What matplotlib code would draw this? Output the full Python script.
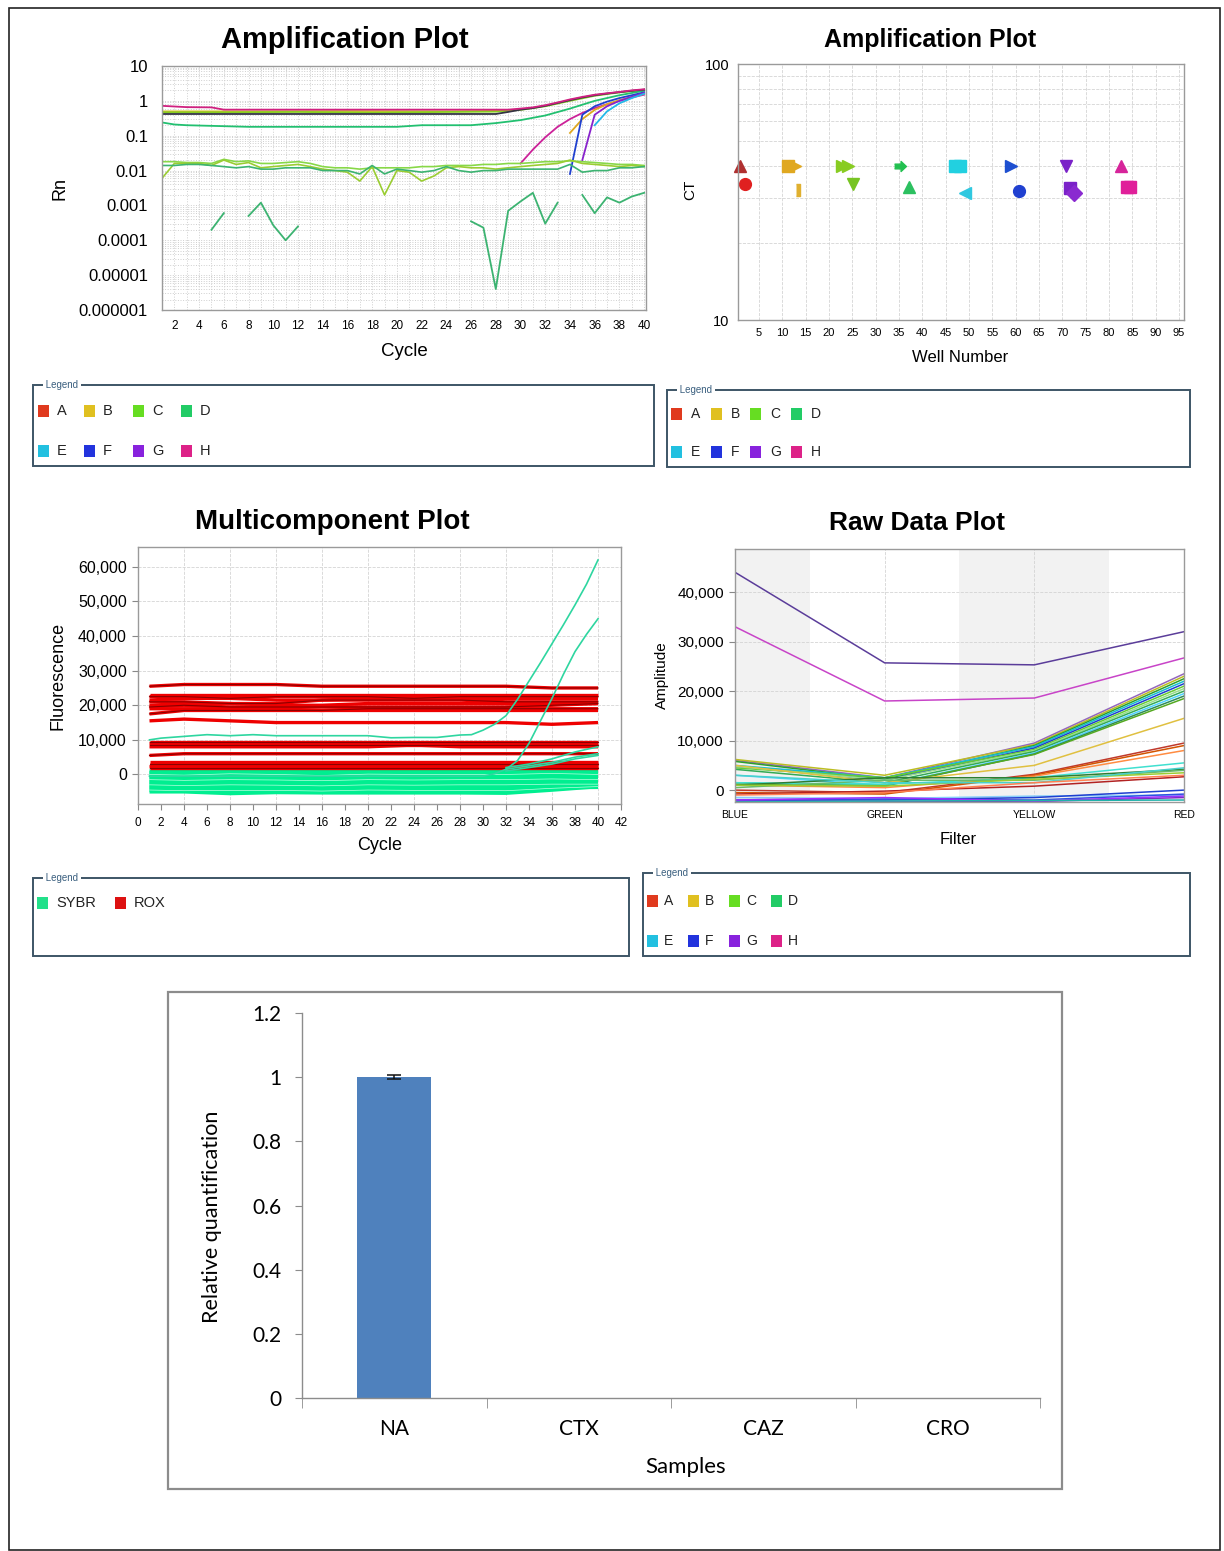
import numpy as np
import matplotlib
matplotlib.use("Agg")
import matplotlib.pyplot as plt
from matplotlib.patches import Rectangle
from matplotlib.ticker import FixedLocator, NullFormatter, MultipleLocator

nan = np.nan

# ---------------- data ----------------
well_rows = ["A", "B", "C", "D", "E", "F", "G", "H"]
row_colors = ["#e03a1e", "#e0c020", "#66dd22", "#22cc66",
              "#22c0e0", "#2233dd", "#8822dd", "#dd2288"]
dye_names = ["SYBR", "ROX"]
dye_colors = ["#22e08a", "#dd1111"]

# Amplification plot (Rn, log scale)
rn_tick_vals = [1e-6, 1e-5, 1e-4, 1e-3, 1e-2, 1e-1, 1, 10]
rn_tick_labels = ["0.000001", "0.00001", "0.0001", "0.001", "0.01", "0.1", "1", "10"]
cycles = list(range(1, 41))

rn_h_x = [1, 3, 5, 6, 29, 30, 31, 32, 33, 34, 35, 36, 37, 38, 39, 40]
rn_h_y = [0.72, 0.66, 0.65, 0.56, 0.56, 0.60, 0.65, 0.75, 0.90, 1.10, 1.30, 1.50, 1.65, 1.80, 2.00, 2.15]
rn_g_x = [1, 28, 29, 30, 31, 32, 33, 34, 35, 36, 37, 38, 39, 40]
rn_g_y = [0.42, 0.42, 0.48, 0.56, 0.62, 0.72, 0.87, 1.05, 1.25, 1.45, 1.62, 1.78, 1.95, 2.10]
rn_c_x = [1, 6, 12, 18, 24, 28, 30, 32, 34, 36, 38, 40]
rn_c_y = [0.47, 0.47, 0.48, 0.46, 0.48, 0.49, 0.55, 0.70, 1.00, 1.40, 1.75, 2.05]
rn_b_x = [1, 8, 16, 24, 29]
rn_b_y = [0.50, 0.50, 0.51, 0.50, 0.52]
rn_d_x = [1, 2, 3, 8, 20, 22, 26, 28, 30, 32, 34, 36, 38, 40]
rn_d_y = [0.24, 0.21, 0.20, 0.18, 0.18, 0.20, 0.20, 0.23, 0.28, 0.38, 0.60, 1.00, 1.45, 1.95]
rn_h2_x = [30, 31, 32, 33, 34, 35, 36, 37, 38, 39, 40]
rn_h2_y = [0.016, 0.04, 0.09, 0.18, 0.30, 0.45, 0.62, 0.80, 1.00, 1.25, 1.50]
rn_b2_x = [34, 35, 36, 37, 38, 40]
rn_b2_y = [0.12, 0.30, 0.55, 0.80, 1.05, 1.60]
rn_f_x = [34, 35, 36, 37, 38, 39, 40]
rn_f_y = [0.008, 0.40, 0.70, 0.95, 1.20, 1.45, 1.75]
rn_g2_x = [35, 36, 37, 38, 39, 40]
rn_g2_y = [0.02, 0.40, 0.70, 1.00, 1.30, 1.70]
rn_e_x = [36, 37, 38, 39, 40]
rn_e_y = [0.20, 0.50, 0.85, 1.20, 1.60]

rn_noise_1 = [0.006, 0.016, 0.016, 0.016, 0.014, 0.020, 0.015, 0.017, 0.012, 0.013,
              0.014, 0.015, 0.013, 0.011, 0.010, 0.009, 0.005, 0.013, 0.002, 0.010,
              0.009, 0.005, 0.007, 0.012, 0.013, 0.012, 0.012, 0.011, 0.012, 0.013,
              0.014, 0.015, 0.016, 0.020, 0.016, 0.015, 0.014, 0.013, 0.014, 0.013]
rn_noise_2 = [0.014, 0.014, 0.015, 0.015, 0.014, 0.013, 0.012, 0.013, 0.011, 0.011,
              0.012, 0.012, 0.012, 0.010, 0.010, 0.010, 0.008, 0.014, 0.008, 0.011,
              0.010, 0.009, 0.010, 0.013, 0.010, 0.009, 0.010, 0.010, 0.011, 0.011,
              0.011, 0.011, 0.011, 0.015, 0.009, 0.010, 0.010, 0.012, 0.012, 0.013]
rn_noise_3 = [0.018, 0.018, 0.017, 0.017, 0.016, 0.021, 0.018, 0.019, 0.016, 0.016,
              0.017, 0.018, 0.016, 0.013, 0.012, 0.012, 0.011, 0.012, 0.012, 0.012,
              0.012, 0.013, 0.013, 0.014, 0.014, 0.014, 0.015, 0.015, 0.016, 0.016,
              0.017, 0.018, 0.018, 0.019, 0.018, 0.017, 0.016, 0.015, 0.015, 0.014]
rn_low = [nan, nan, nan, nan, 2e-4, 6e-4, nan, 5e-4, 1.2e-3, 2.7e-4,
          1e-4, 2.5e-4, nan, nan, nan, nan, nan, nan, nan, nan,
          nan, nan, nan, nan, nan, 3.5e-4, 2.3e-4, 4e-6, 7e-4, 1.3e-3,
          2.3e-3, 3e-4, 1.2e-3, nan, 2e-3, 6e-4, 1.7e-3, 1.2e-3, 1.8e-3, 2.3e-3]

# CT per well
ct_wells = [1, 2, 11.3, 12.7, 13.4, 22.8, 24.1, 25.2, 35.2, 37.2, 47.0,
            48.0, 49.1, 59.1, 60.8, 70.7, 71.6, 72.5, 82.6, 83.8, 84.5]
ct_values = [40, 34, 40, 40, 32.2, 40, 40, 34, 40, 33, 40,
             40, 31.3, 40, 31.9, 40, 32.7, 31.3, 40, 33, 33]
ct_colors = ["#b03030", "#e02020", "#e0a820", "#e0a820", "#e0b030", "#88cc22", "#88cc22",
             "#77c422", "#22c050", "#2cc060", "#22d0e0", "#22d0e0", "#30c8e0", "#1d4fd0",
             "#2040d0", "#7a22c8", "#7a22c8", "#8a2ad0", "#d6249a", "#e0209a", "#e0209a"]
ct_markers = ["^", "o", "s", ">", "bar", ">", ">", "v", "arrow", "^", "s",
              "s", "<", ">", "o", "v", "s", "D", "^", "s", "s"]

# Multicomponent plot
mc_knots = [1, 4, 8, 12, 16, 20, 24, 28, 32, 36, 40]
rox_series = [
    [25500, 26000, 26000, 26000, 25500, 25500, 25500, 25500, 25500, 25000, 25000],
    [23000, 23000, 23000, 23000, 23000, 23000, 23000, 23000, 23000, 23000, 23000],
    [22500, 22500, 22000, 22500, 22500, 22500, 22000, 22500, 22500, 22500, 22500],
    [21500, 22000, 22000, 21500, 21500, 22000, 22000, 22000, 22000, 22000, 22000],
    [21000, 21000, 20500, 20500, 21500, 21500, 21500, 21500, 21000, 21000, 21000],
    [20000, 20500, 20500, 20000, 20000, 20500, 20500, 20500, 20500, 20500, 20500],
    [19500, 20000, 19500, 19500, 19500, 19500, 19500, 19500, 19500, 20000, 20500],
    [19000, 19000, 19000, 19000, 18500, 18500, 18500, 18500, 18500, 18500, 18500],
    [17500, 18500, 18500, 18500, 18500, 19000, 19000, 19000, 19000, 19000, 19000],
    [15500, 16000, 15500, 15000, 15000, 15000, 15000, 15000, 15000, 14500, 15000],
    [9500, 9500, 9500, 9500, 9500, 9500, 9500, 9500, 9500, 9500, 9500],
    [9000, 9000, 9000, 9000, 8500, 9000, 9000, 9000, 9000, 9000, 9000],
    [8500, 8500, 8500, 8500, 8500, 8500, 8500, 8500, 8500, 8500, 8500],
    [8000, 8000, 8000, 8000, 8000, 8000, 8500, 8000, 8000, 8000, 8000],
    [5500, 6000, 6000, 6000, 6000, 6000, 6000, 6000, 6000, 6000, 6000],
    [3500, 3500, 3500, 3500, 3500, 3500, 3500, 3500, 3500, 3500, 3500],
    [3000, 3000, 3000, 3000, 3000, 3000, 3000, 3000, 3000, 3000, 3000],
    [2500, 2500, 2500, 2500, 2500, 2500, 2500, 2500, 2500, 2500, 2500],
    [2000, 2000, 2000, 2000, 2000, 2000, 2000, 2000, 2000, 2000, 2000],
    [2200, 2800, 2500, 3000, 2700, 2200, 2600, 3200, 2500, 3000, 2200],
]
sybr_series = [
    [1500, 1500, 1500, 1500, 1500, 1500, 1500, 1500, 1500, 1500, 1500],
    [1000, 800, 1200, 1000, 900, 1100, 1000, 1000, 1000, 1200, 1000],
    [500, 300, 600, 500, 400, 600, 500, 500, 500, 800, 500],
    [0, -200, 200, 0, -300, 100, 0, 0, 0, 300, 0],
    [-500, -700, -400, -600, -800, -500, -600, -500, -500, -300, -500],
    [-1000, -1200, -900, -1100, -1300, -1000, -1100, -1000, -1000, -800, -1000],
    [-1500, -1700, -1500, -1600, -1800, -1500, -1600, -1500, -1500, -1300, -1500],
    [-2000, -2200, -2000, -2100, -2300, -2000, -2100, -2000, -2000, -1800, -2000],
    [-2500, -2700, -2500, -2700, -2800, -2500, -2600, -2500, -2500, -2300, -2200],
    [-3000, -3200, -3000, -3100, -3300, -3000, -3100, -3000, -3000, -2800, -2800],
    [-3500, -3700, -3500, -3600, -3700, -3500, -3600, -3500, -3500, -3300, -3300],
    [-4000, -4200, -4000, -4100, -4200, -4000, -4100, -4000, -4000, -3800, -3700],
    [-4500, -4700, -4600, -4600, -4800, -4500, -4600, -4600, -4700, -4000, -3500],
    [-5000, -5000, -5500, -5200, -5300, -5300, -5300, -5300, -5400, -4500, -3500],
]
sybr_up1_x = [1, 2, 4, 6, 8, 10, 12, 14, 16, 18, 20, 22, 24, 26, 28,
              29, 30, 31, 32, 33, 34, 35, 36, 37, 38, 39, 40]
sybr_up1_y = [10000, 10500, 11000, 11500, 11200, 11500, 11200, 11200, 11200, 11200, 11200,
              10600, 10700, 10700, 11400, 11500, 12800, 14500, 17000, 21700, 27000,
              32300, 37800, 43300, 49000, 55000, 62000]
sybr_up2_x = [1, 10, 20, 30, 31, 32, 33, 34, 35, 36, 37, 38, 39, 40]
sybr_up2_y = [-500, -500, -500, -500, 200, 1500, 4000, 9000, 15500, 22000, 29000, 35500, 40500, 45000]
sybr_up3_x = [32, 34, 36, 38, 40]
sybr_up3_y = [2000, 3000, 4500, 6500, 8000]
sybr_up4_x = [32, 34, 36, 38, 40]
sybr_up4_y = [1500, 2500, 3500, 5000, 6000]
sybr_up5_x = [32, 34, 36, 38, 40]
sybr_up5_y = [1000, 2000, 3000, 4500, 5500]

# Raw data plot
filters = ["BLUE", "GREEN", "YELLOW", "RED"]
raw_series = [
    ("#5b3d9a", [44000, 25700, 25300, 32000]),
    ("#c844c8", [33000, 18000, 18600, 26700]),
    ("#9467bd", [6000, 2500, 9500, 23500]),
    ("#bcbd22", [6200, 3000, 9200, 23000]),
    ("#2ca02c", [5800, 2200, 9000, 22500]),
    ("#17becf", [5000, 2500, 8800, 22000]),
    ("#1f3fd0", [4800, 2000, 8500, 21500]),
    ("#66cc33", [4500, 2500, 8200, 21000]),
    ("#98df8a", [4800, 2000, 8000, 20500]),
    ("#33aa55", [4200, 1500, 7800, 20000]),
    ("#4dd2ff", [3000, 1000, 7500, 19500]),
    ("#2e8b57", [1500, 800, 7300, 19000]),
    ("#55aa22", [1200, 1000, 7200, 18500]),
    ("#e0c040", [5000, 1500, 5000, 14500]),
    ("#c0392b", [0, -500, 3200, 9500]),
    ("#d35400", [-500, -800, 3000, 9000]),
    ("#ff8c42", [1000, 500, 2800, 8000]),
    ("#40e0d0", [1500, 1200, 2500, 5500]),
    ("#2e7d32", [1000, 2500, 2500, 4200]),
    ("#66bb6a", [500, 2000, 2000, 4000]),
    ("#9acd32", [1000, 800, 2200, 3500]),
    ("#48d1cc", [3000, 1500, 1500, 4500]),
    ("#b22222", [-800, -200, 800, 2700]),
    ("#ff7f50", [-1000, -500, 1500, 3000]),
    ("#87cefa", [-1500, -1700, -1200, -1000]),
    ("#1f3fd0", [-2000, -2000, -1500, 0]),
    ("#3050e0", [-2200, -1800, -2000, -800]),
    ("#7b2fbe", [-2300, -2300, -2300, -1500]),
    ("#9b30ff", [-2000, -1500, -2200, -1200]),
    ("#20b2aa", [-2400, -2200, -2100, -2000]),
]

# Relative quantification
samples = ["NA", "CTX", "CAZ", "CRO"]
rq_values = [1.0, 0.0, 0.0, 0.0]
rq_errors = [0.006, 0.0, 0.0, 0.0]
rq_ticks = [0, 0.2, 0.4, 0.6, 0.8, 1.0, 1.2]
rq_tick_labels = ["0", "0.2", "0.4", "0.6", "0.8", "1", "1.2"]

# ---------------- layout helpers ----------------
W, H = 1224, 1551
plt.rcParams["font.family"] = ["Liberation Sans", "DejaVu Sans"]
fig = plt.figure(figsize=(W / 100, H / 100), dpi=100)


def box(x0, y0, x1, y1):
    return [x0 / W, 1 - y1 / H, (x1 - x0) / W, (y1 - y0) / H]


def fp(x, y):
    return x / W, 1 - y / H


def frame(x0, y0, x1, y1, color, lw):
    fig.patches.append(Rectangle(fp(x0, y1), (x1 - x0) / W, (y1 - y0) / H,
                                 transform=fig.transFigure, fill=False,
                                 ec=color, lw=lw))


def legend_panel(x0, y0, x1, y1, labels, colors, cols_x, text_dx, rows_y, fs=10.5):
    frame(x0, y0, x1, y1, "#3d5566", 1.4)
    fig.text(*fp(x0 + 10, y0), " Legend ", fontsize=7, color="#3a5f7f",
             ha="left", va="center",
             bbox=dict(fc="white", ec="none", pad=0.3))
    ncol = len(cols_x)
    for i, (lab, col) in enumerate(zip(labels, colors)):
        cx = cols_x[i % ncol]
        cy = rows_y[i // ncol]
        fig.patches.append(Rectangle(fp(cx, cy + 6), 11 / W, 12 / H,
                                     transform=fig.transFigure, fc=col, ec="none"))
        fig.text(*fp(cx + text_dx, cy), lab, fontsize=fs, color="#222222",
                 ha="left", va="center")


def style_axes(ax):
    for s in ax.spines.values():
        s.set_color("#9a9a9a")
        s.set_linewidth(1.0)


# outer frame
frame(9, 8, 1220, 1550, "#222222", 1.2)

# ---------------- panel 1: amplification (Rn) ----------------
ax1 = fig.add_axes(box(162, 66, 646, 310))
ax1.set_yscale("log")
curves = [
    (rn_b_x, rn_b_y, "#d8c030"),
    (rn_c_x, rn_c_y, "#88cc22"),
    (rn_d_x, rn_d_y, "#22c070"),
    (rn_g_x, rn_g_y, "#333344"),
    (rn_h_x, rn_h_y, "#d02080"),
    (rn_h2_x, rn_h2_y, "#cc2299"),
    (rn_b2_x, rn_b2_y, "#e0a820"),
    (rn_f_x, rn_f_y, "#2040d0"),
    (rn_g2_x, rn_g2_y, "#8822cc"),
    (rn_e_x, rn_e_y, "#22b8e8"),
]
for xs, ys, c in curves:
    ax1.plot(xs, ys, color=c, lw=1.3)
ax1.plot(cycles, rn_noise_3, color="#88d848", lw=1.2)
ax1.plot(cycles, rn_noise_1, color="#9acd32", lw=1.2)
ax1.plot(cycles, rn_noise_2, color="#3cb371", lw=1.2)
ax1.plot(cycles, rn_low, color="#3cb371", lw=1.3)
ax1.set_ylim(1e-6, 10)
ax1.set_xlim(1, 40.15)
ax1.set_yticks(rn_tick_vals)
ax1.set_yticklabels(rn_tick_labels)
ax1.yaxis.set_minor_locator(FixedLocator(
    [m * 10.0 ** e for e in range(-6, 1) for m in range(2, 10)]))
ax1.yaxis.set_minor_formatter(NullFormatter())
ax1.set_xticks(range(2, 41, 2))
ax1.xaxis.set_minor_locator(MultipleLocator(1))
ax1.grid(which="both", color="#cfcfcf", ls=":", lw=0.7)
ax1.set_axisbelow(True)
ax1.tick_params(axis="y", which="major", labelsize=12, length=0, pad=10)
ax1.tick_params(axis="x", which="major", labelsize=8.5, length=0, pad=7)
ax1.tick_params(which="minor", length=0)
style_axes(ax1)
fig.text(*fp(345, 40), "Amplification Plot", fontsize=21, fontweight="bold",
         ha="center", va="center")
fig.text(*fp(60, 188), "Rn", fontsize=13, rotation=90, ha="center", va="center")
fig.text(*fp(404, 351), "Cycle", fontsize=13.5, ha="center", va="center")

# ---------------- panel 2: CT vs well ----------------
ax2 = fig.add_axes(box(738, 64, 1184, 320))
ax2.set_yscale("log")
ax2.set_ylim(10, 100)
ax2.set_xlim(0.5, 96.1)
bar_marker = [(-0.35, -1), (0.35, -1), (0.35, 1), (-0.35, 1)]
arrow_marker = [(-1, -0.4), (0.1, -0.4), (0.1, -0.85), (1, 0), (0.1, 0.85), (0.1, 0.4), (-1, 0.4)]
for w, ct, c, m in zip(ct_wells, ct_values, ct_colors, ct_markers):
    mk = {"bar": bar_marker, "arrow": arrow_marker}.get(m, m)
    ax2.plot([w], [ct], marker=mk, color=c, ms=8.5, ls="none", mec=c, clip_on=False)
ax2.set_yticks([10, 100])
ax2.set_yticklabels(["10", "100"])
ax2.yaxis.set_minor_locator(FixedLocator([20, 30, 40, 50, 60, 70, 80, 90]))
ax2.yaxis.set_minor_formatter(NullFormatter())
ax2.set_xticks(range(5, 96, 5))
ax2.grid(which="both", color="#d4d4d4", ls="--", lw=0.6)
ax2.set_axisbelow(True)
ax2.tick_params(axis="y", labelsize=10.5, length=0, pad=6)
ax2.tick_params(axis="x", labelsize=8, length=0, pad=6)
ax2.tick_params(which="minor", length=0)
style_axes(ax2)
fig.text(*fp(930, 40), "Amplification Plot", fontsize=18, fontweight="bold",
         ha="center", va="center")
fig.text(*fp(690, 190), "CT", fontsize=11, rotation=90, ha="center", va="center")
fig.text(*fp(960, 357), "Well Number", fontsize=12, ha="center", va="center")

legend_panel(33, 385, 654, 466, well_rows, row_colors,
             [38, 84, 133, 181], 19, [411, 451])
legend_panel(667, 390, 1190, 467, well_rows, row_colors,
             [671, 711, 750, 791], 20, [414, 452], fs=10)

# ---------------- panel 3: multicomponent ----------------
ax3 = fig.add_axes(box(138, 547, 621, 804))
for ys in sybr_series:
    ax3.plot(mc_knots, ys, color="#00ee90", lw=2.6, solid_capstyle="butt")
for ys in sybr_series[::3]:
    ax3.plot(mc_knots, ys, color="#b8ffe0", lw=0.5)
for ys in rox_series:
    ax3.plot(mc_knots, ys, color="#ee0000", lw=2.4, solid_capstyle="butt")
for ys in rox_series[::2]:
    ax3.plot(mc_knots, ys, color="#8b0000", lw=0.8)
ax3.plot(sybr_up1_x, sybr_up1_y, color="#2ed6a0", lw=1.2)
ax3.plot(sybr_up2_x, sybr_up2_y, color="#2ed6a0", lw=1.2)
ax3.plot(sybr_up3_x, sybr_up3_y, color="#2ed6a0", lw=1.2)
ax3.plot(sybr_up4_x, sybr_up4_y, color="#2ed6a0", lw=1.2)
ax3.plot(sybr_up5_x, sybr_up5_y, color="#2ed6a0", lw=1.2)
ax3.set_xlim(0, 42)
ax3.set_ylim(-8540, 65750)
ax3.set_xticks(range(0, 43, 2))
ax3.set_yticks(range(0, 60001, 10000))
ax3.set_yticklabels([f"{v:,}" for v in range(0, 60001, 10000)])
for gx in range(4, 41, 4):
    ax3.axvline(gx, color="#d4d4d4", ls="--", lw=0.6, zorder=0)
for gy in range(0, 60001, 10000):
    ax3.axhline(gy, color="#d4d4d4", ls="--", lw=0.6, zorder=0)
ax3.tick_params(axis="y", labelsize=11.5, length=4, color="#888888", pad=4)
ax3.tick_params(axis="x", labelsize=8.5, length=4, color="#888888", pad=5)
style_axes(ax3)
fig.text(*fp(332, 522), "Multicomponent Plot", fontsize=20, fontweight="bold",
         ha="center", va="center")
fig.text(*fp(58, 676), "Fluorescence", fontsize=13, rotation=90, ha="center", va="center")
fig.text(*fp(380, 845), "Cycle", fontsize=13, ha="center", va="center")

# ---------------- panel 4: raw data ----------------
ax4 = fig.add_axes(box(735, 549, 1184, 802))
ax4.axvspan(0, 0.5, color="#f2f2f2", zorder=0, lw=0)
ax4.axvspan(1.5, 2.5, color="#f2f2f2", zorder=0, lw=0)
for c, vals in raw_series:
    ax4.plot(range(len(filters)), vals, color=c, lw=1.1)
ax4.set_xlim(0, 3)
ax4.set_ylim(-2400, 48700)
ax4.set_xticks(range(len(filters)))
ax4.set_xticklabels(filters)
ax4.set_yticks(range(0, 40001, 10000))
ax4.set_yticklabels([f"{v:,}" for v in range(0, 40001, 10000)])
for gx in [1, 2]:
    ax4.axvline(gx, color="#d4d4d4", ls="--", lw=0.6, zorder=0.5)
for gy in range(10000, 40001, 10000):
    ax4.axhline(gy, color="#d4d4d4", ls="--", lw=0.6, zorder=0.5)
ax4.tick_params(axis="y", labelsize=11, length=4, color="#888888", pad=4)
ax4.tick_params(axis="x", labelsize=7.5, length=0, pad=6)
style_axes(ax4)
fig.text(*fp(917, 523), "Raw Data Plot", fontsize=19, fontweight="bold",
         ha="center", va="center")
fig.text(*fp(662, 675), "Amplitude", fontsize=11, rotation=90, ha="center", va="center")
fig.text(*fp(958, 840), "Filter", fontsize=12, ha="center", va="center")

legend_panel(33, 878, 629, 956, dye_names, dye_colors, [37, 115], 19, [903], fs=10.5)
legend_panel(643, 873, 1190, 956, well_rows, row_colors,
             [647, 688, 729, 771], 17, [901, 941], fs=10)

# ---------------- panel 5: relative quantification ----------------
frame(168, 992, 1062, 1489, "#8c8c8c", 1.6)
ax5 = fig.add_axes(box(302, 1013, 1040, 1398))
xpos = np.arange(len(samples))
ax5.bar(xpos, rq_values, width=0.4, color="#4f81bd", zorder=2)
ax5.errorbar(xpos[:1], rq_values[:1], yerr=rq_errors[:1], fmt="none",
             ecolor="#111111", elinewidth=1.1, capsize=5, capthick=1.1, zorder=3)
ax5.set_xlim(-0.5, 3.5)
ax5.set_ylim(0, 1.2)
ax5.set_yticks(rq_ticks)
ax5.set_yticklabels(rq_tick_labels)
ax5.set_xticks(xpos)
ax5.set_xticklabels(samples)
ax5.xaxis.set_minor_locator(FixedLocator(np.arange(-0.5, 3.6, 1.0)))
for s in ["top", "right"]:
    ax5.spines[s].set_visible(False)
for s in ["left", "bottom"]:
    ax5.spines[s].set_color("#8c8c8c")
    ax5.spines[s].set_linewidth(1.0)
ax5.tick_params(axis="y", labelsize=15, length=5, color="#8c8c8c", pad=10,
                labelfontfamily="Lato")
ax5.tick_params(axis="x", which="major", labelsize=15, length=0, pad=15,
                labelfontfamily="Lato")
ax5.tick_params(axis="x", which="minor", length=7, color="#8c8c8c")
fig.text(*fp(212, 1217), "Relative quantification", fontsize=15.5, rotation=90,
         ha="center", va="center", family="Lato")
fig.text(*fp(686, 1467), "Samples", fontsize=16, ha="center", va="center",
         family="Lato")

fig.savefig("out.png", dpi=100, facecolor="white")
